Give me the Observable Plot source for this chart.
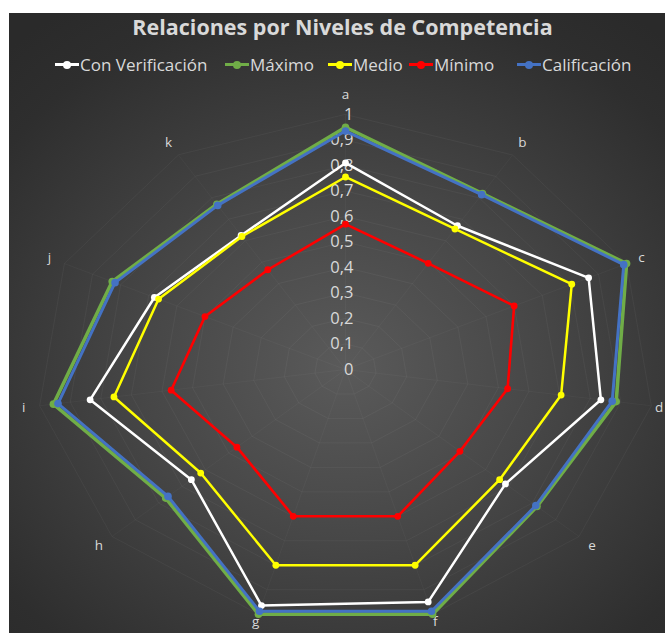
<!DOCTYPE html>
<html>
<head>
<meta charset="utf-8">
<script src="https://cdn.jsdelivr.net/npm/d3@7"></script>
<script src="https://cdn.jsdelivr.net/npm/@observablehq/plot@0.6"></script>
<style>
  html, body { margin: 0; padding: 0; width: 665px; height: 633px; overflow: hidden; background: #ffffff; }
  #frame { position: absolute; left: 9px; top: 13px; width: 656px; height: 620px; overflow: hidden;
    background: radial-gradient(ellipse 75% 70% at 51% 57%, #5a5a5a 0%, #474747 40%, #2e2e2e 85%, #2a2a2a 100%); }
  #title { position: absolute; left: 0; top: 13px; width: 685px; text-align: center; font-family: "Open Sans", sans-serif;
    font-weight: 700; font-size: 21.5px; color: #d9d9d9; line-height: 28px; }
  .leg { position: absolute; top: 53px; height: 22px; display: flex; align-items: center; font-family: "Open Sans", sans-serif;
    font-size: 17px; color: #d9d9d9; white-space: nowrap; }
  .sym { position: relative; width: 24px; height: 18px; margin-right: 1px; }
  .sym .ln { position: absolute; left: 0; top: 8px; width: 24px; height: 3px; }
  .sym .dt { position: absolute; left: 8px; top: 5.5px; width: 8px; height: 8px; border-radius: 50%; }
  #chart { position: absolute; left: 0; top: 80px; }
</style>
</head>
<body>
<div id="frame"></div>
<div id="title">Relaciones por Niveles de Competencia</div>
<div id="legend"></div>
<div id="chart"></div>
<script>
// ---- data ----
const axesLabels = ["a", "b", "c", "d", "e", "f", "g", "h", "i", "j", "k"];
const seriesNames = ["Con Verificación", "Máximo", "Medio", "Mínimo", "Calificación"];
const seriesColors = ["#ffffff", "#70ad47", "#ffff00", "#ff0000", "#4472c4"];
const conVerificacion = [0.81, 0.67, 0.865, 0.835, 0.685, 0.95, 0.965, 0.66, 0.835, 0.68, 0.625];
const maximo          = [0.95, 0.82, 1.00, 0.885, 0.82, 1.00, 1.00, 0.77, 0.955, 0.83, 0.77];
const medio           = [0.755, 0.655, 0.805, 0.705, 0.66, 0.80, 0.80, 0.62, 0.757, 0.665, 0.62];
const minimo          = [0.57, 0.495, 0.60, 0.53, 0.49, 0.60, 0.60, 0.465, 0.57, 0.50, 0.465];
const calificacion    = [0.935, 0.815, 0.99, 0.872, 0.815, 0.988, 0.988, 0.76, 0.94, 0.82, 0.765];
const tickValues = [0, 0.1, 0.2, 0.3, 0.4, 0.5, 0.6, 0.7, 0.8, 0.9, 1];
const tickLabels = ["0", "0,1", "0,2", "0,3", "0,4", "0,5", "0,6", "0,7", "0,8", "0,9", "1"];

const seriesValues = [conVerificacion, maximo, medio, minimo, calificacion];
const n = axesLabels.length;
const ang = i => (i * 2 * Math.PI) / n;
const RX = 309, RY = 255; // half-extent of the value-1 ring in pixels (x, y)

// legend
const legLeft = [55, 225, 328, 409, 517];
const legend = document.getElementById("legend");
seriesNames.forEach((s, k) => {
  const d = document.createElement("div");
  d.className = "leg";
  d.style.left = legLeft[k] + "px";
  d.innerHTML = `<span class="sym"><span class="ln" style="background:${seriesColors[k]}"></span><span class="dt" style="background:${seriesColors[k]}"></span></span>${s}`;
  legend.appendChild(d);
});

// build tables
const points = [];
seriesNames.forEach((s, k) => {
  seriesValues[k].forEach((v, i) => {
    points.push({series: s, axis: axesLabels[i], x: v * Math.sin(ang(i)), y: v * Math.cos(ang(i))});
  });
});
const rings = [];
tickValues.filter(t => t > 0).forEach(t => {
  axesLabels.forEach((a, i) => rings.push({ring: t, x: t * Math.sin(ang(i)), y: t * Math.cos(ang(i))}));
});
const spokes = axesLabels.map((a, i) => ({x1: 0, y1: 0, x2: Math.sin(ang(i)), y2: Math.cos(ang(i))}));
const labelPos = axesLabels.map((a, i) => {
  const s = Math.sin(ang(i)), c = Math.cos(ang(i));
  const ux = s * RX, uy = c * RY, len = Math.hypot(ux, uy);
  const off = i === 0 ? 20 : (c < -0.9 ? 8 : 16);
  return {label: a, x: Math.min(1.015, s + off * (ux / len) / RX), y: c + off * (uy / len) / RY};
});
const ticks = tickValues.map((t, i) => ({x: 0, y: t, label: tickLabels[i]}));

const colorScale = {domain: seriesNames, range: seriesColors};
const widths = {"Con Verificación": 2.5, "Máximo": 3.6, "Medio": 2.5, "Mínimo": 2.6, "Calificación": 3};

const marks = [
  Plot.line(rings, {x: "x", y: "y", z: "ring", curve: "linear-closed", stroke: "#ffffff", strokeOpacity: 0.045, strokeWidth: 1}),
  Plot.link(spokes, {x1: "x1", y1: "y1", x2: "x2", y2: "y2", stroke: "#ffffff", strokeOpacity: 0.03, strokeWidth: 1}),
  Plot.text(ticks, {x: "x", y: "y", text: "label", textAnchor: "end", dx: 8, fill: "#d9d9d9", fontSize: 16.5}),
  Plot.text(labelPos, {x: "x", y: "y", text: "label", fill: "#d9d9d9", fontSize: 13.5})
];
seriesNames.forEach(s => {
  const data = points.filter(p => p.series === s);
  marks.push(Plot.line(data, {x: "x", y: "y", curve: "linear-closed", stroke: "series", strokeWidth: widths[s]}));
  marks.push(Plot.dot(data, {x: "x", y: "y", fill: "series", r: s === "Máximo" || s === "Calificación" ? 3.8 : 3.4}));
});

const chart = Plot.plot({
  width: 665,
  height: 553,
  margin: 0,
  style: {background: "transparent", fontFamily: "'Open Sans', sans-serif", overflow: "visible"},
  x: {domain: [-1, 1], range: [345 - RX, 345 + RX], axis: null},
  y: {domain: [-1, 1], range: [289 + RY, 289 - RY], axis: null},
  color: colorScale,
  marks
});
document.getElementById("chart").appendChild(chart);
</script>
</body>
</html>
